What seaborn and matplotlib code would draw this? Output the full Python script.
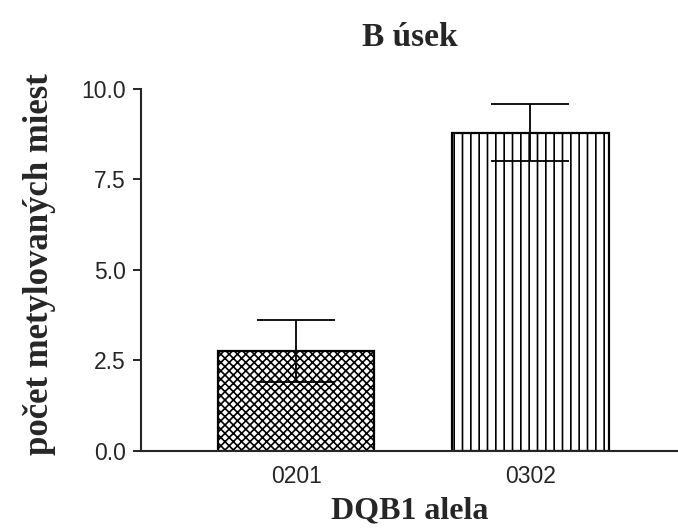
import matplotlib
matplotlib.use("Agg")
import matplotlib.pyplot as plt
import pandas as pd
import seaborn as sns

# data
alleles = ["0201", "0302"]
means = [2.75, 8.78]
errors = [0.85, 0.79]
hatches = ["xxxx", "||"]

df = pd.DataFrame({"alela": alleles, "pocet": means})

sns.set_style("ticks")
plt.rcParams["font.family"] = ["Liberation Sans", "DejaVu Sans"]
plt.rcParams["hatch.linewidth"] = 1.2

serif = ["Liberation Serif", "DejaVu Serif"]

fig = plt.figure(figsize=(6.78, 5.31), dpi=100)
ax = fig.add_axes([0.208, 0.151, 0.792, 0.682])

sns.barplot(data=df, x="alela", y="pocet", ax=ax, errorbar=None,
            width=0.667, color="white", edgecolor="black", linewidth=1.6)
for patch, h in zip(ax.patches, hatches):
    patch.set_hatch(h)

ax.errorbar(alleles, means, yerr=errors, fmt="none", ecolor="black",
            elinewidth=1.3, capsize=28, capthick=1.3, zorder=5)

ax.set_ylim(0, 10)
ax.set_xlim(-0.662, 1.63)
ax.set_yticks([0, 2.5, 5.0, 7.5, 10.0])
ax.set_yticklabels(["0.0", "2.5", "5.0", "7.5", "10.0"])
ax.tick_params(axis="y", length=6, width=1.4, labelsize=16.5, pad=5)
ax.tick_params(axis="x", length=0, labelsize=16.5, pad=10)
for side in ["left", "bottom"]:
    ax.spines[side].set_linewidth(1.5)
sns.despine(ax=ax)

ax.set_title("B úsek", family=serif, fontweight="bold", fontsize=24, pad=31)
ax.set_xlabel("DQB1 alela", family=serif, fontweight="bold", fontsize=23, labelpad=6)
ax.set_ylabel("počet metylovaných miest", family=serif, fontweight="bold",
              fontsize=25)
ax.yaxis.set_label_coords(-0.158, 0.515)

fig.savefig("out.png", dpi=100)
